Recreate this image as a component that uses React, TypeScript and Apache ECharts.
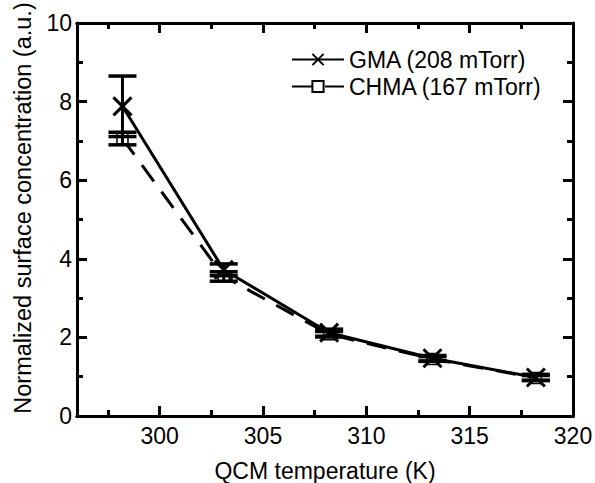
import React, { useEffect, useRef } from "react";
import * as echarts from "echarts";

const temps = [298.2, 303.1, 308.2, 313.2, 318.2];
const gmaValues = [7.88, 3.72, 2.12, 1.47, 0.98];
const gmaErrors = [0.77, 0.15, 0.09, 0.07, 0.08];
const chmaValues = [7.06, 3.55, 2.08, 1.45, 0.97];
const chmaErrors = [0.16, 0.12, 0.07, 0.06, 0.06];
const xLabels = [300, 305, 310, 315, 320];
const xMajorTicks = [300, 305, 310, 315, 320];
const xMinorTicks = [297.5, 302.5, 307.5, 312.5, 317.5];
const seriesNames = ["GMA (208 mTorr)", "CHMA (167 mTorr)"];
const xTitle = "QCM temperature (K)";
const yTitle = "Normalized surface concentration (a.u.)";

const FONT = "'Liberation Sans', Arial, Helvetica, sans-serif";

export default function App() {
  const ref = useRef<HTMLDivElement>(null);
  useEffect(() => {
    if (!ref.current) return;
    const chart = echarts.init(ref.current, undefined, { renderer: "svg" });

    const errData = (vals: number[], errs: number[]) =>
      temps.map((t, i) => [t, vals[i], errs[i]]);

    const errorRender = (params: any, api: any) => {
      const x = api.value(0);
      const y = api.value(1);
      const e = api.value(2);
      const top = api.coord([x, y + e]);
      const bot = api.coord([x, y - e]);
      const hw = 14;
      const style = { stroke: "#000", lineWidth: 3.5 };
      return {
        type: "group",
        children: [
          { type: "line", shape: { x1: top[0], y1: top[1], x2: bot[0], y2: bot[1] }, style: { stroke: "#000", lineWidth: 3 } },
          { type: "line", shape: { x1: top[0] - hw, y1: top[1], x2: top[0] + hw, y2: top[1] }, style },
          { type: "line", shape: { x1: bot[0] - hw, y1: bot[1], x2: bot[0] + hw, y2: bot[1] }, style },
        ],
      };
    };

    const axisLine = { show: true, lineStyle: { color: "#000", width: 3 } };
    const baseX = { type: "value", min: 296, max: 320, splitLine: { show: false }, axisLine };
    const baseY = { type: "value", min: 0, max: 10, interval: 2, splitLine: { show: false }, axisLine };

    chart.setOption({
      animation: false,
      backgroundColor: "#fff",
      textStyle: { fontFamily: FONT },
      grid: { left: 77, right: 22, top: 23, bottom: 67, containLabel: false, outerBoundsMode: "none" },
      legend: {
        data: seriesNames,
        orient: "vertical",
        left: 286,
        top: 43,
        itemWidth: 52,
        itemHeight: 14,
        itemGap: 4,
        textStyle: { fontSize: 23, color: "#000", fontFamily: FONT },
      },
      graphic: [
        {
          type: "text",
          x: 23,
          y: 208,
          rotation: Math.PI / 2,
          style: {
            text: yTitle,
            fontSize: 23.5,
            fontFamily: FONT,
            fill: "#000",
            align: "center",
            verticalAlign: "middle",
          },
        },
      ],
      xAxis: [
        {
          ...baseX,
          position: "bottom",
          axisTick: { show: true, inside: true, length: 10, customValues: xMajorTicks, lineStyle: { color: "#000", width: 3 } },
          axisLabel: { show: true, customValues: xLabels, fontSize: 23, color: "#000", margin: 8, fontFamily: FONT },
          name: xTitle,
          nameLocation: "middle",
          nameGap: 43,
          nameTextStyle: { fontSize: 23, color: "#000", fontFamily: FONT },
        },
        {
          ...baseX,
          position: "bottom",
          axisTick: { show: true, inside: true, length: 6, customValues: xMinorTicks, lineStyle: { color: "#000", width: 3 } },
          axisLabel: { show: false },
        },
        {
          ...baseX,
          position: "top",
          axisTick: { show: true, inside: true, length: 10, customValues: xMajorTicks, lineStyle: { color: "#000", width: 3 } },
          axisLabel: { show: false },
        },
        {
          ...baseX,
          position: "top",
          axisTick: { show: true, inside: true, length: 6, customValues: xMinorTicks, lineStyle: { color: "#000", width: 3 } },
          axisLabel: { show: false },
        },
      ],
      yAxis: [
        {
          ...baseY,
          position: "left",
          axisTick: { show: true, inside: true, length: 10, lineStyle: { color: "#000", width: 3 } },
          minorTick: { show: true, splitNumber: 2, length: 6, lineStyle: { color: "#000", width: 3 } },
          axisLabel: { fontSize: 23, color: "#000", margin: 5, fontFamily: FONT },
        },
        {
          ...baseY,
          position: "right",
          axisTick: { show: true, inside: true, length: 10, lineStyle: { color: "#000", width: 3 } },
          minorTick: { show: true, splitNumber: 2, length: 6, lineStyle: { color: "#000", width: 3 } },
          axisLabel: { show: false },
        },
      ],
      series: [
        {
          name: seriesNames[0],
          type: "line",
          data: temps.map((t, i) => [t, gmaValues[i]]),
          symbol: "path://M0,0L10,10M10,0L0,10",
          symbolSize: 18,
          itemStyle: { color: "#000", borderColor: "#000", borderWidth: 3 },
          lineStyle: { color: "#000", width: 3 },
          z: 3,
        },
        {
          name: seriesNames[1],
          type: "line",
          data: temps.map((t, i) => [t, chmaValues[i]]),
          symbol: "rect",
          symbolSize: 11,
          itemStyle: { color: "#fff", borderColor: "#000", borderWidth: 1.5 },
          lineStyle: { color: "#000", width: 3, type: [20, 13] },
          z: 2,
        },
        {
          name: "gmaErr",
          type: "custom",
          renderItem: errorRender,
          data: errData(gmaValues, gmaErrors),
          encode: { x: 0, y: 1 },
          z: 4,
        },
        {
          name: "chmaErr",
          type: "custom",
          renderItem: errorRender,
          data: errData(chmaValues, chmaErrors),
          encode: { x: 0, y: 1 },
          z: 4,
        },
      ],
    });
    return () => chart.dispose();
  }, []);
  return (
    <div
      ref={ref}
      style={{ position: "fixed", left: 0, top: 0, width: 595, height: 483 }}
    />
  );
}
